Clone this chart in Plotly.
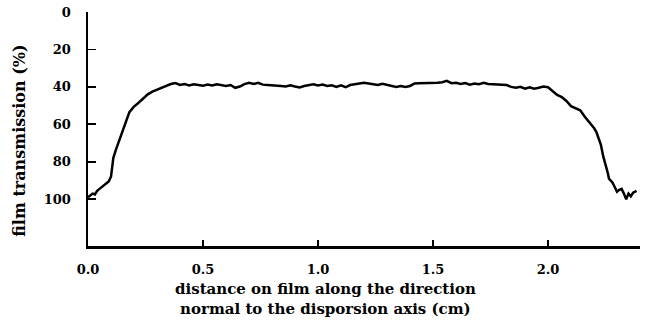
import plotly.graph_objects as go

# distance on film (cm)
distance = [
    0.00, 0.01, 0.02, 0.03, 0.04, 0.05, 0.06, 0.07, 0.08, 0.09, 0.10, 0.105,
    0.11, 0.12, 0.13, 0.14, 0.15, 0.16, 0.17, 0.18, 0.19, 0.20, 0.22, 0.24,
    0.26, 0.28, 0.30, 0.32, 0.34,
    0.36, 0.38, 0.40, 0.42, 0.44, 0.46, 0.48, 0.50, 0.52, 0.54, 0.56, 0.58,
    0.60, 0.62, 0.64, 0.66, 0.68, 0.70, 0.72, 0.74, 0.76, 0.78, 0.80, 0.82,
    0.84, 0.86, 0.88, 0.90, 0.92, 0.94, 0.96, 0.98, 1.00, 1.02, 1.04, 1.06,
    1.08, 1.10, 1.12, 1.14, 1.16, 1.18, 1.20, 1.22, 1.24, 1.26, 1.28, 1.30,
    1.32, 1.34, 1.36, 1.38, 1.40, 1.42, 1.44, 1.46, 1.48, 1.50, 1.52, 1.54,
    1.56, 1.58, 1.60, 1.62, 1.64, 1.66, 1.68, 1.70, 1.72, 1.74, 1.76, 1.78,
    1.80, 1.82, 1.84, 1.86, 1.88, 1.90, 1.92, 1.94, 1.96, 1.98, 2.00, 2.02,
    2.04, 2.06, 2.08, 2.10, 2.12, 2.14, 2.16, 2.18, 2.20, 2.21, 2.22, 2.23,
    2.24, 2.25, 2.26, 2.265, 2.28, 2.29, 2.30, 2.31, 2.32, 2.33, 2.34, 2.35,
    2.36, 2.37, 2.385,
]

# film transmission (%)
transmission = [
    99.0, 98.0, 97.0, 97.5, 95.5, 94.5, 93.5, 92.5, 91.5, 90.5, 88.0, 84.0,
    78.0, 74.0, 70.5, 67.0, 63.5, 60.0, 56.5, 53.5, 52.0, 50.5, 48.5, 46.0,
    44.0, 42.5, 41.5, 40.5, 39.5,
    38.5, 38.0, 39.0, 38.5, 39.2, 38.6, 39.0, 39.4, 38.8, 39.2, 38.6, 39.0,
    39.5, 39.0, 40.5, 39.8, 38.5, 37.8, 38.5, 37.8, 38.8, 39.0, 39.2, 39.0,
    39.5, 39.8, 39.2, 39.8, 40.3, 39.5, 39.0, 38.6, 39.2, 38.8, 39.5, 39.2,
    40.0, 39.2, 40.2, 39.0, 38.6, 38.0, 37.8, 38.2, 38.6, 39.0, 38.4, 39.0,
    39.5, 40.0, 39.6, 40.0, 39.5, 38.2, 38.0, 38.0, 37.6, 38.0, 37.8, 37.5,
    36.8, 38.0, 37.8, 38.4, 38.0, 38.8, 38.2, 38.6, 37.8, 38.5, 38.6, 38.8,
    38.6, 39.0, 40.0, 40.5, 40.0, 41.0, 40.2, 41.0, 40.5, 39.8, 40.2, 42.5,
    44.3, 45.5, 47.5, 50.3, 51.5, 52.5, 56.0, 58.8, 62.0, 64.0, 67.0, 71.0,
    77.0, 81.0, 86.0, 89.0, 91.0, 93.5, 96.0, 95.0, 94.5, 97.0, 100.0, 97.0,
    98.5, 96.5, 95.5,
]

x_tickvals = [0.0, 0.5, 1.0, 1.5, 2.0]
x_ticktext = ["0.0", "0.5", "1.0", "1.5", "2.0"]
y_tickvals = [0, 20, 40, 60, 80, 100]
y_ticktext = ["0", "20", "40", "60", "80", "100"]

tick_font = dict(family="DejaVu Serif", size=13, color="black", weight="bold")
title_font = dict(family="DejaVu Serif", size=15, color="black", weight="bold")
ytitle_font = dict(family="DejaVu Serif", size=16, color="black", weight="bold")

fig = go.Figure()
fig.add_trace(go.Scatter(
    x=distance, y=transmission, mode="lines",
    line=dict(color="black", width=2.5),
    showlegend=False, hoverinfo="skip",
))

fig.update_layout(
    width=648, height=329,
    margin=dict(l=88, r=8, t=12, b=83),
    paper_bgcolor="white", plot_bgcolor="white",
    xaxis=dict(
        range=[0, 2.4], tickmode="array", tickvals=x_tickvals, ticktext=x_ticktext,
        showgrid=False, zeroline=False, showline=True, linecolor="black", linewidth=2.5,
        ticks="inside", ticklen=6, tickwidth=1.5, tickcolor="black",
        tickfont=tick_font, ticklabelstandoff=10, automargin=False,
    ),
    yaxis=dict(
        range=[125, 0], tickmode="array", tickvals=y_tickvals, ticktext=y_ticktext,
        showgrid=False, zeroline=False, showline=True, linecolor="black", linewidth=2.5,
        ticks="inside", ticklen=8, tickwidth=1.8, tickcolor="black",
        tickfont=tick_font, ticklabelstandoff=12, automargin=False,
    ),
    annotations=[
        dict(
            text="distance on film along the direction<br>normal to the disporsion axis (cm)",
            xref="paper", yref="paper", x=0.43, y=-0.135, xanchor="center", yanchor="top",
            showarrow=False, font=title_font, align="center",
        ),
        dict(
            text="film transmission (%)", textangle=-90,
            xref="paper", yref="paper", x=-0.123, y=0.45, xanchor="center", yanchor="middle",
            showarrow=False, font=ytitle_font,
        ),
    ],
)

# remove the browser's default 8px body margin so the figure sits at the window origin
fig.write_html(
    "out.html",
    config={"displayModeBar": False, "staticPlot": True},
    post_script="document.body.style.margin='0px';",
)
